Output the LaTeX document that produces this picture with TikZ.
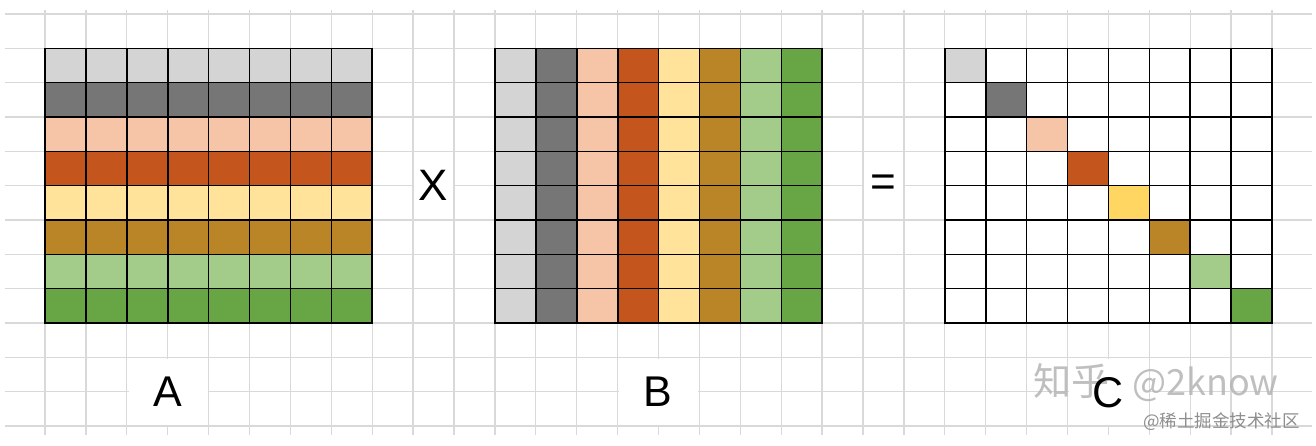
\documentclass[tikz,border=0pt]{standalone}
\usepackage{fontspec}
\setmainfont{Liberation Sans}
\newfontfamily\cjk{Noto Sans CJK SC}
\definecolor{bgline}{HTML}{D9D9D9}
\definecolor{cLG}{HTML}{D4D4D4}
\definecolor{cDG}{HTML}{767676}
\definecolor{cPE}{HTML}{F6C4A6}
\definecolor{cOR}{HTML}{C4551C}
\definecolor{cLY}{HTML}{FFE39A}
\definecolor{cYC}{HTML}{FFD661}
\definecolor{cBR}{HTML}{BA8526}
\definecolor{cLN}{HTML}{A3CB8A}
\definecolor{cGN}{HTML}{68A545}
\definecolor{wmgray}{HTML}{B4B4B4}
\definecolor{wmsmall}{HTML}{8E8E8E}
\begin{document}
\begin{tikzpicture}[x=1pt,y=-1pt,
  bg/.style={draw=bgline,line width=1.3pt},
  mat/.style={draw=black,line width=1.6pt,line cap=rect},
  labelbox/.style={fill=white,inner sep=0pt,minimum width=79pt,minimum height=66pt,font=\fontsize{43}{43}\selectfont},
  opbox/.style={fill=white,inner sep=0pt,minimum width=38.5pt,minimum height=66pt,font=\fontsize{44}{44}\selectfont},
  lab/.style={inner sep=0pt,font=\fontsize{43}{43}\selectfont},
  wm/.style={inner sep=0pt,text=wmgray,text opacity=0.85,font=\cjk\fontsize{38}{38}\selectfont},
  wms/.style={inner sep=0pt,text=wmsmall,font=\cjk\fontsize{17.5}{17.5}\selectfont}]
\def\cw{40.9}
\def\ch{34.333}
\useasboundingbox (0,0) rectangle (1316,446);
\fill[white] (0,0) rectangle (1316,446);
% background grid
\foreach \k in {0,...,30} \draw[bg] ({45+\cw*\k},10) -- ({45+\cw*\k},435);
\foreach \j in {0,...,12} \draw[bg] (5,{14+\ch*\j}) -- (1312,{14+\ch*\j});
% matrix A: coloured rows
\foreach \c [count=\i from 0] in {cLG,cDG,cPE,cOR,cLY,cBR,cLN,cGN}
  \fill[\c] (45,{48.333+\ch*\i}) rectangle ++({8*\cw},\ch);
% matrix B: coloured columns
\foreach \c [count=\i from 0] in {cLG,cDG,cPE,cOR,cLY,cBR,cLN,cGN}
  \fill[\c] ({495+\cw*\i},48.333) rectangle ++(\cw,{8*\ch});
% matrix C: white with coloured diagonal
\fill[white] (944.8,48.333) rectangle ++({8*\cw},{8*\ch});
\foreach \c [count=\i from 0] in {cLG,cDG,cPE,cOR,cYC,cBR,cLN,cGN}
  \fill[\c] ({944.8+\cw*\i},{48.333+\ch*\i}) rectangle ++(\cw,\ch);
% matrix cell lines
\foreach \x in {45,495,944.8}{
  \foreach \k in {0,...,8} \draw[mat] ({\x+\cw*\k},48.333) -- ({\x+\cw*\k},{48.333+8*\ch});
  \foreach \j in {0,...,8} \draw[mat] (\x,{48.333+\ch*\j}) -- ({\x+8*\cw},{48.333+\ch*\j});
}
% operators
\node[opbox] (times) at (433.55,185.67) {X};
\node[opbox] (equals) at (883.5,185.67) {=};
% labels
\node[labelbox] (labA) at (168.1,391.67) {A};
\node[labelbox] (labB) at (658,391.67) {B};
\node[labelbox] (boxC) at (1108.4,391.67) {};
% watermarks
\node[wm,anchor=base west] (wmzh) at (1033,395) {知乎};
\node[wm,anchor=base east,font=\cjk\fontsize{36}{36}\selectfont] (wmname) at (1279,395) {@2know};
\node[wms,anchor=base east] (wmsmall) at (1300,427) {@稀土掘金技术社区};
\node[lab] (labC) at (1108.4,393) {C};
\end{tikzpicture}
\end{document}
